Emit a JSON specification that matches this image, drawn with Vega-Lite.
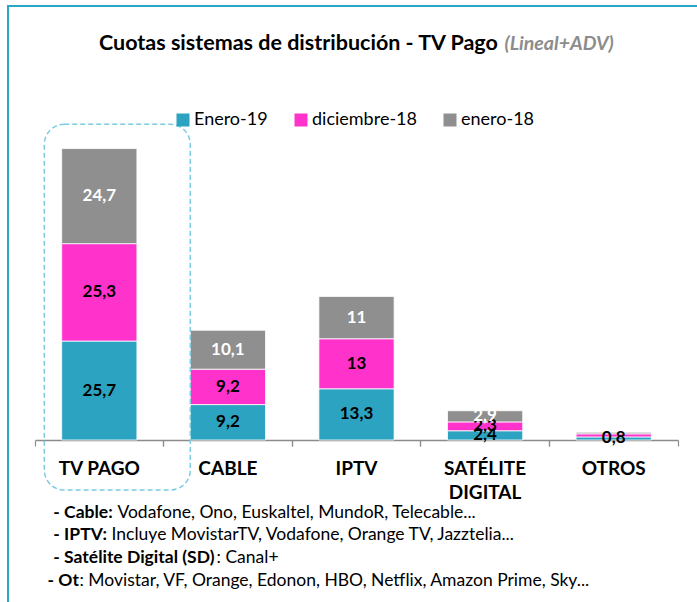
{
  "$schema": "https://vega.github.io/schema/vega-lite/v6.json",
  "width": 643,
  "height": 308,
  "autosize": "none",
  "padding": {"left": 35, "top": 132, "right": 19, "bottom": 162},
  "background": "white",
  "title": {
    "text": "Cuotas sistemas de distribución - TV Pago",
    "anchor": "start",
    "frame": "group",
    "dx": 64,
    "offset": -49,
    "font": "Lato",
    "fontSize": 21.5,
    "fontWeight": "bold",
    "color": "#000000"
  },
  "config": {
    "view": {"stroke": null},
    "locale": {"number": {"decimal": ",", "thousands": ".", "grouping": [3], "currency": ["", " €"]}}
  },
  "datasets": {
    "cuotas": [
      {"cat": "TV PAGO", "serie": "Enero-19", "orden": 1, "valor": 25.7},
      {"cat": "TV PAGO", "serie": "diciembre-18", "orden": 2, "valor": 25.3},
      {"cat": "TV PAGO", "serie": "enero-18", "orden": 3, "valor": 24.7},
      {"cat": "CABLE", "serie": "Enero-19", "orden": 1, "valor": 9.2},
      {"cat": "CABLE", "serie": "diciembre-18", "orden": 2, "valor": 9.2},
      {"cat": "CABLE", "serie": "enero-18", "orden": 3, "valor": 10.1},
      {"cat": "IPTV", "serie": "Enero-19", "orden": 1, "valor": 13.3},
      {"cat": "IPTV", "serie": "diciembre-18", "orden": 2, "valor": 13},
      {"cat": "IPTV", "serie": "enero-18", "orden": 3, "valor": 11},
      {"cat": "SATÉLITE DIGITAL", "serie": "Enero-19", "orden": 1, "valor": 2.4},
      {"cat": "SATÉLITE DIGITAL", "serie": "diciembre-18", "orden": 2, "valor": 2.3},
      {"cat": "SATÉLITE DIGITAL", "serie": "enero-18", "orden": 3, "valor": 2.9},
      {"cat": "OTROS", "serie": "Enero-19", "orden": 1, "valor": 0.8},
      {"cat": "OTROS", "serie": "diciembre-18", "orden": 2, "valor": 0.8},
      {"cat": "OTROS", "serie": "enero-18", "orden": 3, "valor": 0.4}
    ]
  },
  "layer": [
    {
      "data": {"values": [{}]},
      "mark": {"type": "bar", "width": 900, "xOffset": 358.7, "fill": "transparent", "stroke": "#2BA6C6", "strokeWidth": 2},
      "encoding": {
        "x": {"datum": "TV PAGO", "type": "nominal", "axis": null},
        "y": {"datum": 112.7, "type": "quantitative", "axis": null},
        "y2": {"datum": -60}
      }
    },
    {
      "data": {"name": "cuotas"},
      "transform": [
        {"stack": "valor", "groupby": ["cat"], "sort": [{"field": "orden", "order": "ascending"}], "as": ["v0", "v1"]}
      ],
      "mark": {"type": "bar", "width": {"band": 0.585}, "stroke": "#ffffff", "strokeWidth": 0.8},
      "encoding": {
        "x": {
          "field": "cat",
          "type": "nominal",
          "scale": {"domain": ["TV PAGO", "CABLE", "IPTV", "SATÉLITE DIGITAL", "OTROS"], "paddingInner": 0, "paddingOuter": 0},
          "axis": {
            "orient": "bottom",
            "bandPosition": 0,
            "domainColor": "#8c8c8c",
            "domainWidth": 1.5,
            "tickColor": "#8c8c8c",
            "tickSize": 6,
            "tickWidth": 1.2,
            "grid": false,
            "labelAngle": 0,
            "labelFont": "Lato",
            "labelFontWeight": "bold",
            "labelFontSize": 19,
            "labelColor": "#000000",
            "labelPadding": 13,
            "labelLimit": 0,
            "labelBaseline": "top",
            "labelLineHeight": 24,
            "labelExpr": "datum.label == 'SATÉLITE DIGITAL' ? ['SATÉLITE', 'DIGITAL'] : datum.label",
            "title": ["\u200B\u2004- Cable:", "\u200B\u2004- IPTV:", "\u200B\u2004- Satélite Digital (SD)", "- Ot"],
            "titleFont": "Lato",
            "titleFontWeight": "bold",
            "titleFontSize": 17.5,
            "titleColor": "#000000",
            "titleAlign": "left",
            "titleAngle": 0,
            "titleBaseline": "top",
            "titleX": 12,
            "titleY": 63,
            "titleLineHeight": 22.7
          }
        },
        "y": {
          "field": "v0",
          "type": "quantitative",
          "scale": {"domain": [0, 80], "nice": false, "zero": true},
          "axis": {
            "labels": false,
            "ticks": false,
            "domain": false,
            "grid": false,
            "title": "(Lineal+ADV)",
            "titleAngle": 0,
            "titleAlign": "left",
            "titleBaseline": "alphabetic",
            "titleX": 469,
            "titleY": -83,
            "titleFont": "Lato",
            "titleFontStyle": "italic",
            "titleFontWeight": "bold",
            "titleFontSize": 19.5,
            "titleColor": "#8c8c8c"
          }
        },
        "y2": {"field": "v1"},
        "color": {
          "field": "serie",
          "type": "nominal",
          "scale": {"domain": ["Enero-19", "diciembre-18", "enero-18"], "range": ["#2CA3C0", "#FF33CC", "#8F8F8F"]},
          "legend": {
            "orient": "none",
            "legendX": 139,
            "legendY": -21,
            "direction": "horizontal",
            "title": null,
            "padding": 0,
            "symbolType": "square",
            "symbolSize": 169,
            "symbolStrokeWidth": 0,
            "labelFont": "Lato",
            "labelFontSize": 18,
            "labelColor": "#000000",
            "labelOffset": 2,
            "columnPadding": 24
          }
        }
      }
    },
    {
      "data": {"name": "cuotas"},
      "transform": [
        {"stack": "valor", "groupby": ["cat"], "sort": [{"field": "orden", "order": "ascending"}], "as": ["v0", "v1"]},
        {"calculate": "(datum.v0 + datum.v1) / 2", "as": "mid"},
        {"filter": "datum.cat != 'OTROS' || datum.serie == 'Enero-19'"}
      ],
      "mark": {"type": "text", "font": "Lato", "fontWeight": "bold", "fontSize": 17, "baseline": "middle"},
      "encoding": {
        "x": {
          "field": "cat",
          "type": "nominal",
          "axis": {
            "orient": "bottom",
            "bandPosition": 1,
            "labels": false,
            "domain": false,
            "grid": false,
            "tickColor": "#8c8c8c",
            "tickSize": 6,
            "tickWidth": 1.2,
            "title": ["\u200B\u2003\u2003\u2004\u2004Vodafone, Ono, Euskaltel, MundoR, Telecable...", "\u200B\u2003\u2003\u2004Incluye MovistarTV, Vodafone, Orange TV, Jazztelia...", "\u200B\u2003\u2003\u2003\u2003\u2003\u2003\u2003\u2003\u2003\u2003\u2004: Canal+", ": Movistar, VF, Orange, Edonon, HBO, Netflix, Amazon Prime, Sky..."],
            "titleFont": "Lato",
            "titleFontWeight": "normal",
            "titleFontSize": 17.5,
            "titleColor": "#000000",
            "titleAlign": "left",
            "titleAngle": 0,
            "titleBaseline": "top",
            "titleX": 44,
            "titleY": 63,
            "titleLineHeight": 22.7
          }
        },
        "y": {"field": "mid", "type": "quantitative", "axis": null},
        "text": {"field": "valor", "type": "quantitative", "format": "~g"},
        "color": {"condition": {"test": "datum.serie == 'enero-18'", "value": "#ffffff"}, "value": "#000000"}
      }
    },
    {
      "data": {"values": [{}]},
      "mark": {"type": "bar", "width": 146, "xOffset": 18, "cornerRadius": 20, "fill": "transparent", "stroke": "#7CCBE5", "strokeWidth": 1.5, "strokeDash": [5, 3]},
      "encoding": {
        "x": {"datum": "TV PAGO", "type": "nominal", "axis": null},
        "y": {"datum": 82, "type": "quantitative", "axis": null},
        "y2": {"datum": -13}
      }
    }
  ],
  "resolve": {"axis": {"x": "independent", "y": "independent"}}
}
